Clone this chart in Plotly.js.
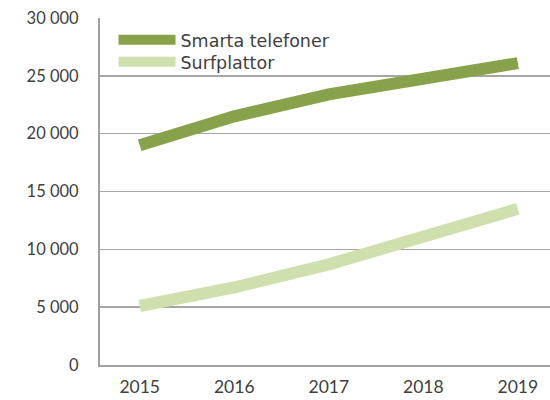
<!DOCTYPE html>
<html>
<head>
<meta charset="utf-8">
<script src="https://cdn.plot.ly/plotly-3.0.1.min.js"></script>
<style>html,body{margin:0;padding:0;background:#fff}#chart{width:550px;height:400px}</style>
</head>
<body>
<div id="chart"></div>
<script>
var years = ['2015', '2016', '2017', '2018', '2019'];
var smartaTelefoner = [19000, 21500, 23400, 24750, 26100];
var surfplattor = [5100, 6700, 8700, 11000, 13500];
var seriesNames = ['Smarta telefoner', 'Surfplattor'];

var font = 'Lato, "Open Sans", sans-serif';
var legendFont = '"DejaVu Sans", sans-serif';
var textColor = '#404040';

var traces = [
  {x: years, y: smartaTelefoner, name: seriesNames[0], type: 'scatter', mode: 'lines',
   line: {color: '#87a24a', width: 12}, legend: 'legend'},
  {x: years, y: surfplattor, name: seriesNames[1], type: 'scatter', mode: 'lines',
   line: {color: '#cfdfad', width: 12}, legend: 'legend2'}
];

var legendBase = {x: 0.03, xanchor: 'left', yanchor: 'middle', bgcolor: 'rgba(0,0,0,0)',
  font: {family: legendFont, size: 17.5, color: textColor}, itemwidth: 57};

var layout = {
  width: 550, height: 400,
  margin: {l: 100, r: 0, t: 18, b: 35},
  paper_bgcolor: '#fff', plot_bgcolor: '#fff',
  separators: ', ',
  font: {family: font, size: 16, color: textColor},
  showlegend: true,
  legend: Object.assign({}, legendBase, {y: 0.9366}),
  legend2: Object.assign({}, legendBase, {y: 0.8732}),
  xaxis: {type: 'category', range: [-0.42, 4.34], showgrid: false, zeroline: false,
          showline: true, linecolor: '#a0a0a0', linewidth: 2, ticks: '', ticklabelstandoff: 5,
          tickfont: {family: font, size: 17.5, color: textColor}, fixedrange: true},
  yaxis: {range: [0, 30000], dtick: 5000, tickformat: ',d', showgrid: true, gridcolor: '#a6a6a6',
          gridwidth: 1.5, zeroline: false, showline: true, linecolor: '#a0a0a0', linewidth: 2,
          ticks: '', ticklabelstandoff: 16, tickfont: {family: font, size: 16.5, color: textColor},
          fixedrange: true}
};

Plotly.newPlot('chart', traces, layout, {displayModeBar: false, staticPlot: true});
</script>
</body>
</html>
